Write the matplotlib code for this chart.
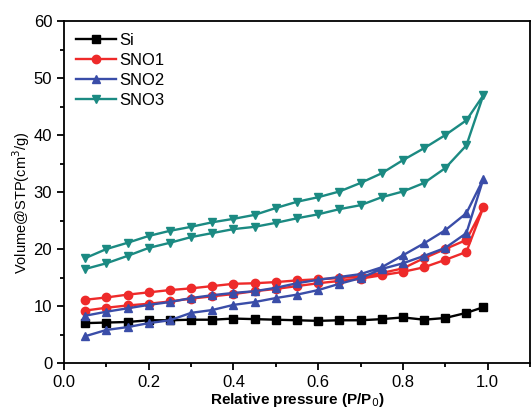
import matplotlib
matplotlib.use("Agg")
import matplotlib.pyplot as plt
from matplotlib.ticker import MultipleLocator

plt.rcParams['font.family'] = ['Liberation Sans', 'DejaVu Sans']

p_ads = [0.05, 0.10, 0.15, 0.20, 0.25, 0.30, 0.35, 0.40, 0.45, 0.50,
         0.55, 0.60, 0.65, 0.70, 0.75, 0.80, 0.85, 0.90, 0.95, 0.99]

si_v = [7.0, 7.1, 7.2, 7.5, 7.5, 7.6, 7.6, 7.8, 7.7, 7.6,
        7.5, 7.4, 7.5, 7.5, 7.7, 8.0, 7.6, 7.9, 8.8, 9.8]

sno1_ads = [9.2, 9.7, 10.1, 10.4, 10.8, 11.3, 11.7, 12.1, 12.6, 13.0,
            13.5, 14.0, 14.4, 14.8, 15.4, 16.0, 16.8, 18.1, 19.5, 27.3]
sno1_des = [11.1, 11.5, 12.0, 12.4, 12.8, 13.1, 13.5, 13.9, 14.0, 14.2,
            14.5, 14.7, 14.9, 15.2, 15.8, 16.6, 18.4, 20.0, 21.6, 27.3]

sno2_ads = [4.7, 5.8, 6.3, 7.0, 7.5, 8.8, 9.3, 10.2, 10.7, 11.4,
            12.0, 12.8, 13.9, 14.9, 16.5, 17.5, 18.8, 20.2, 22.8, 32.3]
sno2_des = [8.3, 9.0, 9.6, 10.2, 10.7, 11.4, 11.9, 12.3, 12.6, 13.2,
            14.0, 14.6, 15.1, 15.6, 16.8, 18.9, 21.0, 23.3, 26.3, 32.3]

sno3_ads = [16.5, 17.5, 18.8, 20.2, 21.1, 22.1, 22.8, 23.5, 23.9, 24.6,
            25.4, 26.1, 27.0, 27.7, 29.1, 30.1, 31.6, 34.2, 38.2, 47.0]
sno3_des = [18.4, 20.0, 21.1, 22.3, 23.2, 23.9, 24.7, 25.3, 26.0, 27.2,
            28.3, 29.1, 30.1, 31.6, 33.3, 35.6, 37.7, 40.0, 42.6, 47.0]

labels = ['Si', 'SNO1', 'SNO2', 'SNO3']
colors = ['#000000', '#EE2A2A', '#3A4DA8', '#1B8A82']
markers = ['s', 'o', '^', 'v']

fig = plt.figure(figsize=(5.31, 4.15), dpi=100)
ax = fig.add_axes([0.1205, 0.1253, 0.8775, 0.8237])

def loop(ads, des):
    xs = p_ads + p_ads[::-1][1:]
    ys = ads + des[::-1][1:]
    return xs, ys

series = [(p_ads, si_v), loop(sno1_ads, sno1_des), loop(sno2_ads, sno2_des), loop(sno3_ads, sno3_des)]
for (xs, ys), lab, c, m in zip(series, labels, colors, markers):
    ax.plot(xs, ys, color=c, marker=m, markersize=6, linewidth=1.7, label=lab)

ax.set_xlim(0, 1.1)
ax.set_ylim(0, 60)
ax.xaxis.set_minor_locator(MultipleLocator(0.1))
ax.yaxis.set_major_locator(MultipleLocator(10))
ax.yaxis.set_minor_locator(MultipleLocator(5))
ax.set_xticks([0.0, 0.2, 0.4, 0.6, 0.8, 1.0])
ax.set_xticklabels(['0.0', '0.2', '0.4', '0.6', '0.8', '1.0'])
ax.tick_params(which='major', direction='out', length=5, width=1.3, labelsize=12)
ax.tick_params(which='minor', direction='out', length=3, width=1.3)
for s in ax.spines.values():
    s.set_linewidth(1.3)

ax.set_xlabel('Relative pressure (P/P$_0$)', fontsize=11, fontweight='bold', labelpad=1)
ax.set_ylabel('Volume@STP(cm$^3$/g)', fontsize=10.5)
ax.yaxis.set_label_coords(-0.068, 0.47)

leg = ax.legend(loc='upper left', frameon=False, fontsize=12, handlelength=2.4,
                handletextpad=0.2, labelspacing=0.3, borderaxespad=0.3,
                bbox_to_anchor=(0.0, 1.0))

fig.savefig('out.png', dpi=100)
